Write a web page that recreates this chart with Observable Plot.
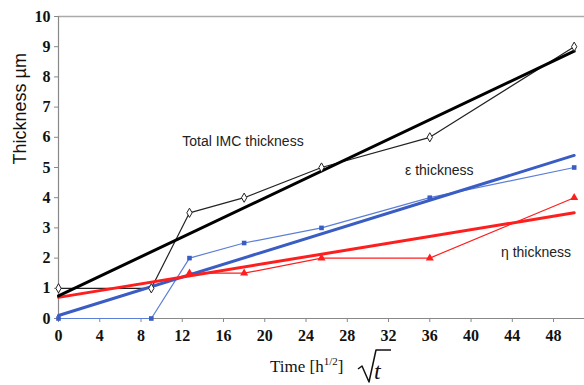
<!DOCTYPE html>
<html><head><meta charset="utf-8">
<script src="https://cdn.jsdelivr.net/npm/d3@7"></script>
<script src="https://cdn.jsdelivr.net/npm/@observablehq/plot@0.6"></script>
<style>body{margin:0;background:#fff}</style></head>
<body><div id="c"></div>
<script>
const times = [0, 9, 12.7, 18, 25.5, 36, 50];
const totalIMC = [1, 1, 3.5, 4, 5, 6, 9];
const epsilon = [0, 0, 2, 2.5, 3, 4, 5];
const etaTimes = [12.7, 18, 25.5, 36, 50];
const eta = [1.5, 1.5, 2, 2, 4];
const fitX = [0, 50];
const totalFit = [0.75, 8.85];
const epsFit = [0.1, 5.4];
const etaFit = [0.7, 3.5];
const xTicks = [0, 4, 8, 12, 16, 20, 24, 28, 32, 36, 40, 44, 48];
const yTicks = [0, 1, 2, 3, 4, 5, 6, 7, 8, 9, 10];
const labels = ["Total IMC thickness", "ε thickness", "η thickness"];
const labelX = [12, 33.6, 42.9];
const labelY = [5.85, 4.9, 2.2];

const total = times.map((t, i) => ({x: t, y: totalIMC[i]}));
const eps = times.map((t, i) => ({x: t, y: epsilon[i]}));
const et = etaTimes.map((t, i) => ({x: t, y: eta[i]}));
const tf = fitX.map((t, i) => ({x: t, y: totalFit[i]}));
const ef = fitX.map((t, i) => ({x: t, y: epsFit[i]}));
const hf = fitX.map((t, i) => ({x: t, y: etaFit[i]}));
const lab = labels.map((s, i) => ({s, x: labelX[i], y: labelY[i]}));

const BLUE = "#3a5dc4", BLUE2 = "#5b7ed6", RED = "#ff1e1e";
const SERIF = "'Liberation Serif', 'Times New Roman', serif";
const SANS = "'Liberation Sans', Arial, sans-serif";

const chart = Plot.plot({
  width: 584, height: 385,
  marginLeft: 58, marginRight: 0, marginTop: 16, marginBottom: 67,
  style: {fontFamily: SERIF, fontSize: "16px", background: "white", overflow: "visible"},
  x: {domain: [0, 51]},
  y: {domain: [0, 10]},
  marks: [
    Plot.ruleY([10], {stroke: "#aaa", strokeWidth: 1.5}),
    Plot.ruleY([0], {stroke: "#888", strokeWidth: 1.2}),
    Plot.ruleX([0], {stroke: "#888", strokeWidth: 1.2}),
    Plot.axisX({ticks: xTicks, tickSize: 4, tickPadding: 7, stroke: "#888", fill: "#111", label: null,
      fontSize: 16, fontFamily: SERIF, fontWeight: "bold"}),
    Plot.axisY({ticks: yTicks, tickSize: 4, tickPadding: 4, stroke: "#888", fill: "#111", label: null,
      fontSize: 16, fontFamily: SERIF, fontWeight: "bold"}),
    Plot.line(eps, {x: "x", y: "y", stroke: BLUE2, strokeWidth: 1.2}),
    Plot.line(et, {x: "x", y: "y", stroke: RED, strokeWidth: 1.2}),
    Plot.line(total, {x: "x", y: "y", stroke: "#222", strokeWidth: 1.2}),
    Plot.line(ef, {x: "x", y: "y", stroke: BLUE, strokeWidth: 3}),
    Plot.line(hf, {x: "x", y: "y", stroke: RED, strokeWidth: 3}),
    Plot.line(tf, {x: "x", y: "y", stroke: "#000", strokeWidth: 3}),
    Plot.dot(eps, {x: "x", y: "y", symbol: "square", fill: BLUE, r: 2.6}),
    Plot.dot(et, {x: "x", y: "y", symbol: "triangle", fill: RED, r: 3}),
    Plot.dot(total, {x: "x", y: "y", symbol: "diamond", fill: "white", stroke: "#222", strokeWidth: 1, r: 2.8}),
    Plot.text(lab, {x: "x", y: "y", text: "s", textAnchor: "start", fontFamily: SANS, fontSize: 14, fill: "#222"}),
    Plot.text(["Thickness µm"], {frameAnchor: "left", dx: -38, dy: -3, rotate: -90, fontFamily: SANS, fontSize: 18, fill: "#111"})
  ]
});
document.getElementById("c").appendChild(chart);

const svg = d3.select(chart);
const t = svg.append("text").attr("x", 270).attr("y", 372).attr("text-anchor", "start")
  .attr("font-family", SERIF).attr("font-size", 17).attr("fill", "#111");
t.append("tspan").text("Time [h");
t.append("tspan").attr("font-size", 11).attr("dy", -7).text("1/2");
t.append("tspan").attr("dy", 7).text("]");
svg.append("path").attr("d", "M358,369 L362,366 L369,382 L376,350 L391,350")
  .attr("fill", "none").attr("stroke", "#111").attr("stroke-width", 1.5).attr("stroke-linejoin", "round");
svg.append("text").attr("x", 374).attr("y", 379).attr("text-anchor", "start")
  .attr("font-family", SERIF).attr("font-style", "italic").attr("font-size", 24).attr("fill", "#111").text("t");
</script></body></html>
